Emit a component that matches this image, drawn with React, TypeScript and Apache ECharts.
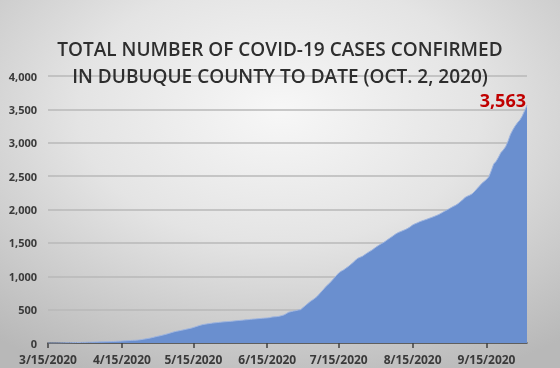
import React, { useEffect, useRef } from "react";
import * as echarts from "echarts";

const START = { year: 2020, month: 2, day: 15 }; // 3/15/2020
const DAY_COUNT = 202; // 3/15/2020 .. 10/2/2020

const cases: number[] = [
  0, 0, 0, 0, 1, 1, 2, 3, 4, 4, 5, 6, 7, 8, 9, 10, 11,
  12, 13, 14, 15, 16, 17, 18, 19, 20, 21, 22, 24, 26, 28,
  30,
  32, 34, 36, 38, 40, 42,
  45,
  50, 56, 62, 68, 75, 83, 92,
  100, 108, 117, 126, 136, 146, 158,
  168, 176, 183, 190, 198, 206, 214,
  222, 232, 244, 256, 266, 276,
  282, 288, 293, 298, 302, 306, 310,
  314, 317, 320, 323, 326, 330, 334,
  337, 340, 343, 347, 350, 354, 358,
  361, 364, 367, 370, 373, 376, 380,
  389, 392, 395, 400, 410, 420, 440,
  462, 470, 478, 485, 494, 500,
  530, 560, 590, 620, 645, 670, 700,
  740, 780, 820, 860, 890, 930, 970,
  1010, 1050, 1075, 1095, 1120, 1145,
  1175, 1205, 1240, 1269, 1285, 1300, 1325,
  1350, 1372, 1393, 1420, 1445, 1468, 1490,
  1510, 1535, 1560, 1585, 1610, 1635, 1655,
  1670, 1685, 1700, 1718, 1740, 1768, 1785,
  1800, 1817, 1830, 1842, 1855, 1868, 1882,
  1895, 1910, 1925, 1945, 1965, 1985, 2005,
  2025, 2045, 2062, 2085, 2115, 2145, 2180,
  2200, 2215, 2235, 2270, 2310, 2350, 2390,
  2420, 2450, 2490, 2580, 2680, 2720, 2780,
  2850, 2890, 2940, 3020, 3120, 3190, 3250,
  3300, 3340, 3400, 3480, 3563,
];

const TITLE_LINES = [
  "TOTAL NUMBER OF COVID-19 CASES CONFIRMED",
  "IN DUBUQUE COUNTY TO DATE (OCT. 2, 2020)",
];

function buildDates(): string[] {
  const out: string[] = [];
  for (let i = 0; i < DAY_COUNT; i++) {
    const d = new Date(Date.UTC(START.year, START.month, START.day + i));
    out.push(`${d.getUTCMonth() + 1}/${d.getUTCDate()}/${d.getUTCFullYear()}`);
  }
  return out;
}

const dates = buildDates();

export default function App() {
  const ref = useRef<HTMLDivElement>(null);
  useEffect(() => {
    if (!ref.current) return;
    const chart = echarts.init(ref.current, null, { renderer: "svg" });
    const isMid = (_i: number, v: string) => v.split("/")[1] === "15";
    const fmt = (v: number) => v.toLocaleString("en-US");
    const lastIdx = cases.length - 1;
    chart.setOption({
      animation: false,
      backgroundColor: new echarts.graphic.RadialGradient(0.5, 0.3, 0.8, [
        { offset: 0, color: "#f7f7f7" },
        { offset: 0.45, color: "#e4e4e4" },
        { offset: 1, color: "#b8b8b8" },
      ]),
      title: {
        text: TITLE_LINES.join("\n"),
        left: "center",
        top: 30,
        textStyle: {
          fontFamily: "Open Sans",
          fontSize: 19,
          fontWeight: 600,
          color: "#2e2e2e",
          lineHeight: 27,
        },
      },
      grid: { left: 48, right: 33, top: 76, bottom: 25, containLabel: false },
      xAxis: {
        type: "category",
        data: dates,
        boundaryGap: false,
        axisLine: { lineStyle: { color: "#404040", width: 1.5 } },
        axisTick: { interval: isMid, length: 5, lineStyle: { color: "#404040", width: 1.5 } },
        axisLabel: {
          interval: isMid,
          margin: 10,
          color: "#3a3a3a",
          fontFamily: "Open Sans",
          fontWeight: 700,
          fontSize: 12,
        },
        splitLine: { show: false },
      },
      yAxis: {
        type: "value",
        min: 0,
        max: 4000,
        interval: 500,
        axisLine: { show: false },
        axisTick: { show: false },
        axisLabel: {
          formatter: fmt,
          margin: 11,
          color: "#3a3a3a",
          fontFamily: "Open Sans",
          fontWeight: 700,
          fontSize: 11,
        },
        splitLine: { lineStyle: { color: "#b8b8b8", width: 1.5 } },
      },
      series: [
        {
          type: "line",
          data: cases,
          showSymbol: false,
          symbol: "none",
          lineStyle: { color: "#9fb5df", width: 1 },
          areaStyle: { color: "#6a8fcf", opacity: 1 },
          silent: true,
          markPoint: {
            symbol: "circle",
            symbolSize: 0,
            silent: true,
            data: [
              {
                coord: [dates[lastIdx], cases[lastIdx]],
                value: cases[lastIdx],
                label: {
                  show: true,
                  position: "left",
                  distance: 1,
                  offset: [0, -5],
                  formatter: (p: any) => fmt(p.value),
                  color: "#c00000",
                  fontFamily: "Open Sans",
                  fontWeight: 700,
                  fontSize: 18,
                },
              },
            ],
          },
        },
      ],
    });
    return () => chart.dispose();
  }, []);
  return (
    <div
      ref={ref}
      style={{ position: "fixed", left: 0, top: 0, width: 560, height: 368 }}
    />
  );
}
